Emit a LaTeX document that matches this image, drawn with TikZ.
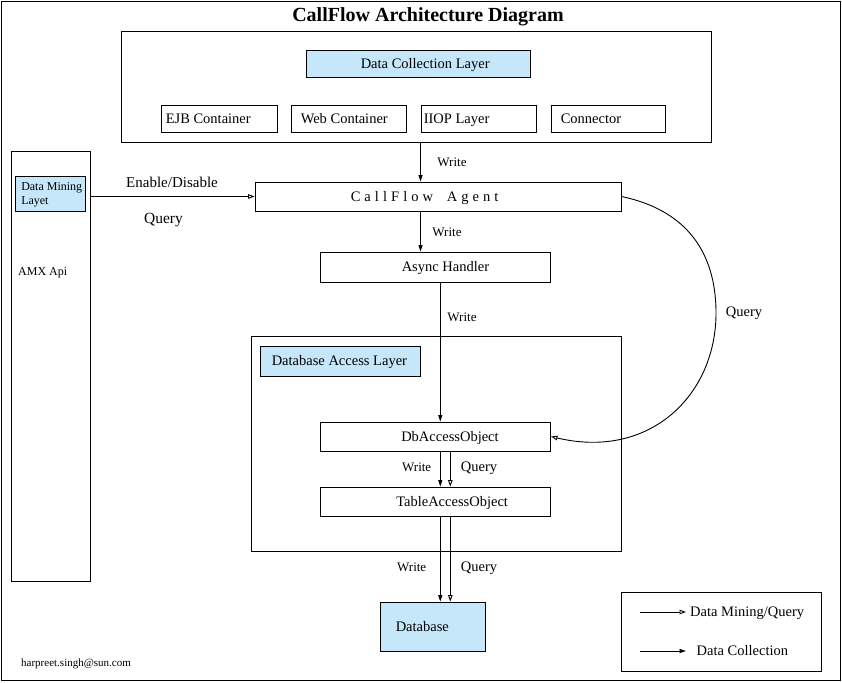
\documentclass[tikz,border=0pt]{standalone}
\usepackage{fontspec}
\setmainfont{Liberation Serif}
\usetikzlibrary{arrows.meta,calc}
\definecolor{lblue}{RGB}{198,230,250}
\newcommand\fsz[2]{\fontsize{#1}{#2}\selectfont}
\tikzset{
  box/.style={draw, rectangle, inner sep=0pt, line width=0.9pt},
  bluebox/.style={box, fill=lblue},
  txt/.style={inner sep=0pt, font=\fsz{14.5}{16}, text height=9.6pt, text depth=0pt},
  wlbl/.style={inner sep=0pt, font=\fsz{13}{15}, text height=8.6pt, text depth=0pt},
  qlbl/.style={txt},
  fa/.style={line width=0.9pt, -{Triangle[length=6.5pt,width=4pt]}},
  oa/.style={line width=0.9pt, -{Triangle[open,length=6.5pt,width=4.5pt]}},
}
\begin{document}
\begin{tikzpicture}[x=1pt,y=-1pt]
\useasboundingbox (0,0) rectangle (842,682);
\draw[line width=0.9pt] (1,1) rectangle (840.5,680.5);

\node[inner sep=0pt, font=\bfseries\fsz{20}{22}, text height=13pt, text depth=0pt] (title) at (428,15) {CallFlow Architecture Diagram};

% data collection container
\node[box, minimum width=590pt, minimum height=111pt] (dcont) at (416,86.5) {};
\node[bluebox, minimum width=224pt, minimum height=27pt,
      label={[txt, anchor=west, xshift=55pt]west:Data Collection Layer}] (dcl) at (418,63.5) {};
\node[box, minimum width=116pt, minimum height=27pt,
      label={[txt, anchor=west, xshift=5pt]west:EJB Container}] (ejb) at (219,118.5) {};
\node[box, minimum width=115pt, minimum height=27pt,
      label={[txt, anchor=west, xshift=10pt]west:Web Container}] (web) at (348.5,118.5) {};
\node[box, minimum width=115pt, minimum height=27pt,
      label={[txt, anchor=west, xshift=3pt]west:IIOP Layer}] (iiop) at (478.5,118.5) {};
\node[box, minimum width=114pt, minimum height=27pt,
      label={[txt, anchor=west, xshift=10pt]west:Connector}] (conn) at (608,118.5) {};

% agent and handler
\node[box, minimum width=366pt, minimum height=29pt,
      label={[txt, anchor=west, xshift=96pt]west:{\addfontfeatures{LetterSpace=28}CallFlow\hspace{6pt} Agent}}] (agent) at (438,196.5) {};
\node[box, minimum width=230pt, minimum height=30pt,
      label={[txt, anchor=west, xshift=82pt]west:Async Handler}] (async) at (435,267) {};

% database access layer
\node[box, minimum width=370pt, minimum height=215pt] (dal) at (436,443.5) {};
\node[bluebox, minimum width=160pt, minimum height=30pt,
      label={[txt, anchor=west, xshift=12pt]west:Database Access Layer}] (dallbl) at (340,361) {};
\node[box, minimum width=230pt, minimum height=29pt,
      label={[txt, anchor=west, xshift=81pt]west:DbAccessObject}] (db) at (435.5,436.5) {};
\node[box, minimum width=230pt, minimum height=29pt,
      label={[txt, anchor=west, xshift=76pt]west:TableAccessObject}] (tao) at (435.5,501.5) {};
\node[bluebox, minimum width=105pt, minimum height=49pt,
      label={[txt, anchor=west, xshift=16pt]west:Database}] (dbase) at (432.5,626.5) {};

% left panel
\node[box, minimum width=79pt, minimum height=430pt] (panel) at (50.5,366) {};
\node[bluebox, minimum width=70pt, minimum height=35pt,
      label={[inner sep=0pt, font=\fsz{12}{13.5}, align=left, anchor=west, xshift=6pt, yshift=-1.5pt]west:Data Mining\\Layet}] (dml) at (50.5,193.5) {};
\node[inner sep=0pt, anchor=west, font=\fsz{12}{14}, text height=8pt, text depth=0pt] (amx) at (18,271) {AMX Api};

% legend
\node[box, minimum width=200pt, minimum height=79pt] (legend) at (721,631.5) {};
\coordinate (l1a) at (640,612);
\coordinate (l1b) at (686,612);
\coordinate (l2a) at (640,651);
\coordinate (l2b) at (686,651);
\draw[oa] (l1a) -- (l1b);
\draw[fa] (l2a) -- (l2b);
\node[txt, anchor=west] (lg1) at (690,612) {Data Mining/Query};
\node[txt, anchor=west] (lg2) at (696.5,651) {Data Collection};

\node[inner sep=0pt, anchor=west, font=\fsz{11}{13}, text height=7.3pt, text depth=0pt] (mail) at (21,663) {harpreet.singh@sun.com};

% connectors
\coordinate (wx) at (440.3,0);
\coordinate (qx) at (450.3,0);
\draw[fa] (dcont.south -| iiop.west) -- (agent.north -| iiop.west);
\draw[fa] (agent.south -| iiop.west) -- (async.north -| iiop.west);
\draw[fa] (async.south -| wx) -- (db.north -| wx);
\draw[fa] (db.south -| wx) -- (tao.north -| wx);
\draw[oa] (db.south -| qx) -- (tao.north -| qx);
\draw[fa] (tao.south -| wx) -- (dbase.north -| wx);
\draw[oa] (tao.south -| qx) -- (dbase.north -| qx);
\draw[oa] (panel.east |- agent.west) -- (agent.west);
\draw[oa] (agent.east) .. controls (695,212) and (716,262) .. (716,313)
          .. controls (716,395) and (650,460) .. (db.east);

% connector labels
\node[wlbl] (w1) at (452,162) {Write};
\node[wlbl] (w2) at (447,232) {Write};
\node[wlbl] (w3) at (462,317) {Write};
\node[wlbl] (w4) at (416.7,467) {Write};
\node[wlbl] (w5) at (411.7,567) {Write};
\node[qlbl] (q1) at (479,467) {Query};
\node[qlbl] (q2) at (479,567) {Query};
\node[qlbl] (q3) at (744,312) {Query};
\node[inner sep=0pt, font=\fsz{15}{17}, text height=10pt, text depth=0pt] (en) at (172,182) {Enable/Disable};
\node[inner sep=0pt, font=\fsz{15.5}{17}, text height=10pt, text depth=0pt] (q4) at (163.5,218) {Query};
\end{tikzpicture}
\end{document}
